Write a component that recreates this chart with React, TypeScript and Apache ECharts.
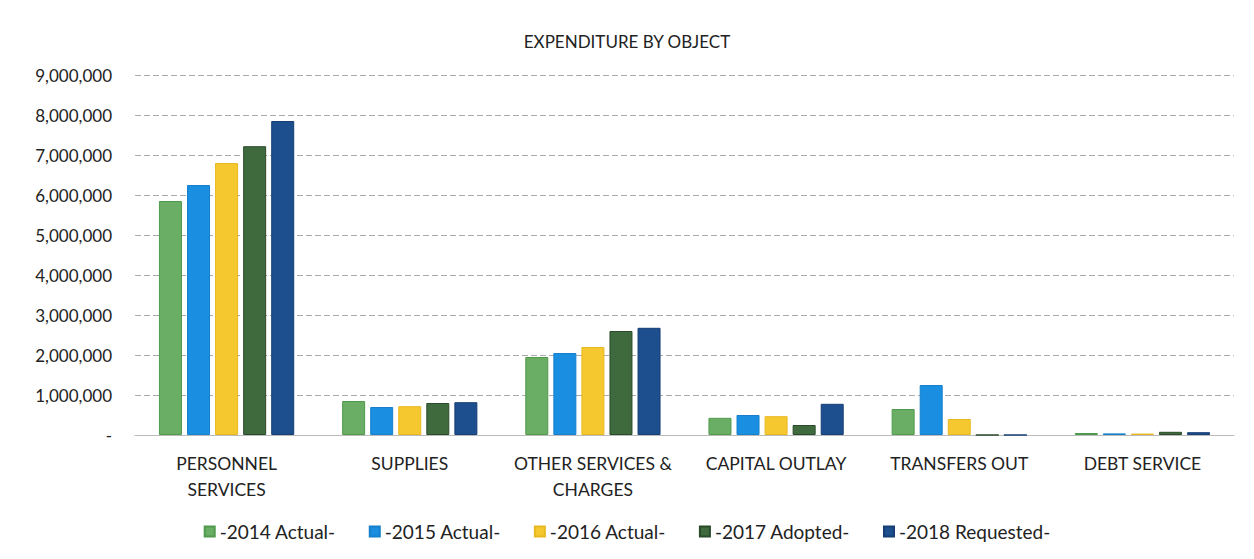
import React, { useEffect, useRef } from "react";
import * as echarts from "echarts";

const categories = [
  "PERSONNEL\nSERVICES",
  "SUPPLIES",
  "OTHER SERVICES &\nCHARGES",
  "CAPITAL OUTLAY",
  "TRANSFERS OUT",
  "DEBT SERVICE",
];
const seriesNames = ["-2014 Actual-", "-2015 Actual-", "-2016 Actual-", "-2017 Adopted-", "-2018 Requested-"];
const actual2014 = [5850000, 850000, 1950000, 430000, 650000, 50000];
const actual2015 = [6250000, 700000, 2050000, 500000, 1250000, 40000];
const actual2016 = [6800000, 720000, 2200000, 470000, 400000, 35000];
const adopted2017 = [7220000, 800000, 2600000, 250000, 0, 80000];
const requested2018 = [7850000, 820000, 2680000, 780000, 0, 70000];
const seriesValues = [actual2014, actual2015, actual2016, adopted2017, requested2018];
const colors = ["#6aae66", "#1a8ee0", "#f6c830", "#3f6a3e", "#1d4e8e"];
const borders = ["#4f9a4c", "#1680cc", "#e8b820", "#2a4a2a", "#163e74"];

export default function App() {
  const ref = useRef<HTMLDivElement>(null);
  useEffect(() => {
    const chart = echarts.init(ref.current!, null, { renderer: "svg" });
    const font = "Lato, 'Open Sans', sans-serif";
    chart.setOption({
      animation: false,
      backgroundColor: "#ffffff",
      textStyle: { fontFamily: font },
      title: {
        text: "EXPENDITURE BY OBJECT",
        left: "center",
        top: 28,
        textStyle: { fontFamily: font, fontSize: 17, fontWeight: "normal", color: "#222" },
      },
      legend: {
        bottom: 13,
        left: "center",
        itemWidth: 10,
        itemHeight: 10,
        itemGap: 33,
        icon: "rect",
        textStyle: { fontFamily: font, fontSize: 19, color: "#222" },
        data: seriesNames,
      },
      grid: { left: 135, right: 20, top: 75, bottom: 124, containLabel: false },
      xAxis: {
        type: "category",
        data: categories,
        axisTick: { show: false },
        axisLine: { show: true, lineStyle: { color: "#bbb", width: 1 } },
        axisLabel: {
          interval: 0,
          margin: 15,
          lineHeight: 26,
          fontSize: 17.5,
          color: "#222",
          fontFamily: font,
        },
      },
      yAxis: {
        type: "value",
        min: 0,
        max: 9000000,
        interval: 1000000,
        axisLine: { show: false },
        axisTick: { show: false },
        axisLabel: {
          margin: 23,
          fontSize: 17,
          color: "#222",
          fontFamily: font,
          formatter: (v: number) => (v === 0 ? "-" : v.toLocaleString("en-US")),
        },
        splitLine: { show: true, lineStyle: { color: "#888", type: [6, 3], width: 1, opacity: 0.7 } },
      },
      series: seriesNames.map((name, i) => ({
        name,
        type: "bar",
        data: seriesValues[i],
        barWidth: 23,
        barGap: "22%",
        itemStyle: { color: colors[i], borderColor: borders[i], borderWidth: 1 },
      })),
    });
    return () => chart.dispose();
  }, []);
  return (
    <div
      ref={ref}
      style={{ position: "fixed", left: 0, top: 0, width: 1254, height: 559 }}
    />
  );
}
